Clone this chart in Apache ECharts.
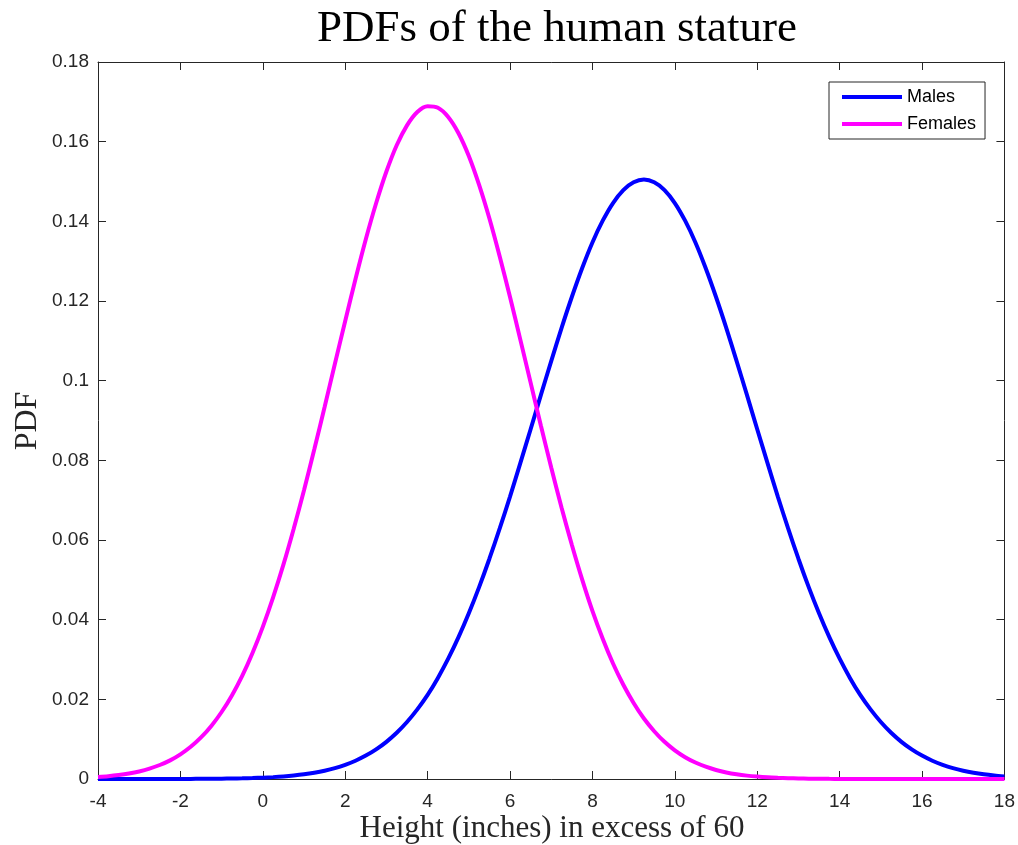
<!DOCTYPE html>
<html>
<head>
<meta charset="utf-8">
<script src="https://cdn.jsdelivr.net/npm/echarts@6/dist/echarts.min.js"></script>
<style>html,body{margin:0;padding:0;background:#fff}#c{width:1018px;height:845px}</style>
</head>
<body>
<div id="c"></div>
<script>
// Data (height in inches above 60, PDF value)
const heights = [-4,-3.75,-3.5,-3.25,-3,-2.75,-2.5,-2.25,-2,-1.75,-1.5,-1.25,-1,-0.75,-0.5,-0.25,
  0,0.25,0.5,0.75,1,1.25,1.5,1.75,2,2.25,2.5,2.75,3,3.25,3.5,3.75,
  4,4.25,4.5,4.75,5,5.25,5.5,5.75,6,6.25,6.5,6.75,7,7.25,7.5,7.75,
  8,8.25,8.5,8.75,9,9.25,9.5,9.75,10,10.25,10.5,10.75,11,11.25,11.5,11.75,
  12,12.25,12.5,12.75,13,13.25,13.5,13.75,14,14.25,14.5,14.75,15,15.25,15.5,15.75,
  16,16.25,16.5,16.75,17,17.25,17.5,17.75,18];
const pdfMale = [0.0000006,0.0000009,0.0000014,0.0000022,0.0000035,0.0000053,0.0000081,0.0000122,0.0000184,0.0000273,0.0000402,0.0000587,0.0000849,0.000122,0.000173,0.000244,
  0.00034,0.000471,0.000645,0.000877,0.00118,0.00158,0.00209,0.00274,0.00357,0.00459,0.00587,0.00743,0.00933,0.0116,0.0143,0.01747,
  0.0211,0.02538,0.0302,0.0356,0.0416,0.04817,0.0553,0.06291,0.0709,0.0793,0.0878,0.09644,0.1049,0.1132,0.121,0.12822,
  0.1347,0.14016,0.1446,0.14785,0.1498,0.1505,0.1498,0.14785,0.1446,0.14016,0.1347,0.12822,0.121,0.1132,0.1049,0.09644,
  0.0878,0.0793,0.0709,0.06291,0.0553,0.04817,0.0416,0.0356,0.0302,0.02538,0.0211,0.01747,0.0143,0.0116,0.00933,0.00743,
  0.00587,0.00459,0.00357,0.00274,0.00209,0.00158,0.00118,0.000877,0.000645];
const pdfFemale = [0.00049,0.000697,0.00099,0.00138,0.0019,0.0026,0.00351,0.00468,0.00619,0.00808,0.01043,0.01332,0.01682,0.02099,0.0259,0.03165,
  0.0382,0.0456,0.0538,0.06283,0.0725,0.08276,0.0934,0.10424,0.115,0.12553,0.1355,0.14453,0.1525,0.1591,0.1641,0.16745,
  0.1689,0.16851,0.1662,0.16212,0.1564,0.14914,0.1407,0.13118,0.121,0.11031,0.0995,0.08869,0.0782,0.06818,0.0588,0.05011,
  0.0422,0.0352,0.029,0.02366,0.0191,0.01519,0.012,0.00933,0.00719,0.00548,0.00413,0.00308,0.00227,0.00165,0.00119,0.000847,
  0.0006,0.000416,0.00029,0.000195,0.00013,0.0000875,0.000058,0.0000375,0.000024,0.0000154,0.00001,0.000006,0.000004,0.0000023,0.0000013,0.0000008,
  0.0000005,0.0000003,0.0000001,0,0,0,0,0,0];
const seriesNames = ['Males','Females'];
const xTicks = {min:-4, max:18, interval:2};
const yTicks = {min:0, max:0.18, interval:0.02};

const pairs = (xs, ys) => xs.map((x,i)=>[x, ys[i]]);
const axisColor = '#262626';
const tickFont = {fontFamily:'Liberation Sans, Arial, sans-serif', fontSize:19, color:axisColor};

const chart = echarts.init(document.getElementById('c'), null, {renderer:'canvas'});
const baseX = {type:'value', min:xTicks.min, max:xTicks.max, interval:xTicks.interval,
  axisLine:{show:true,onZero:false,lineStyle:{color:axisColor,width:1}},
  axisTick:{show:true,inside:true,length:8,lineStyle:{color:axisColor}},
  splitLine:{show:false}};
const baseY = {type:'value', min:yTicks.min, max:yTicks.max, interval:yTicks.interval,
  axisLine:{show:true,onZero:false,lineStyle:{color:axisColor,width:1}},
  axisTick:{show:true,inside:true,length:8,lineStyle:{color:axisColor}},
  splitLine:{show:false}};

chart.setOption({
  animation:false,
  backgroundColor:'#fff',
  title:{text:'PDFs of the human stature', left:552, top:2, textAlign:'center',
    textStyle:{fontFamily:'Liberation Serif, Times New Roman, serif', fontWeight:'normal', fontSize:45, color:'#000'}},
  grid:{left:98, right:12, top:62, bottom:66, containLabel:false},
  xAxis:[
    Object.assign({}, baseX, {position:'bottom', axisLabel:Object.assign({margin:13}, tickFont)}),
    Object.assign({}, baseX, {position:'top', axisLabel:{show:false}})
  ],
  yAxis:[
    Object.assign({}, baseY, {position:'left', axisLabel:Object.assign({margin:9, padding:[2,0,0,0]}, tickFont)}),
    Object.assign({}, baseY, {position:'right', axisLabel:{show:false}})
  ],
  legend:{
    data:seriesNames, orient:'vertical', left:829, top:82,
    padding:[6,9,6,13], itemGap:9, itemWidth:60, itemHeight:4, icon:'rect',
    itemTextGap:6,
    backgroundColor:'#fff', borderColor:axisColor, borderWidth:1, borderRadius:0,
    textStyle:{fontFamily:'Liberation Sans, Arial, sans-serif', fontSize:18, color:'#000'}
  },
  graphic:[
    {type:'text', style:{text:'Height (inches) in excess of 60', x:552, y:829, textAlign:'center', textVerticalAlign:'middle',
      font:'31px "Liberation Serif", "Times New Roman", serif', fill:'#262626'}},
    {type:'text', x:28, y:421, rotation:Math.PI/2, style:{text:'PDF', x:0, y:0, textAlign:'center', textVerticalAlign:'middle',
      font:'32px "Liberation Serif", "Times New Roman", serif', fill:'#262626'}}
  ],
  series:[
    {name:seriesNames[0], type:'line', data:pairs(heights, pdfMale), smooth:0.3,
      showSymbol:false, symbol:'none', lineStyle:{color:'#0000ff', width:4}, itemStyle:{color:'#0000ff'}, clip:false},
    {name:seriesNames[1], type:'line', data:pairs(heights, pdfFemale), smooth:0.3,
      showSymbol:false, symbol:'none', lineStyle:{color:'#ff00ff', width:4}, itemStyle:{color:'#ff00ff'}, clip:false}
  ]
});
</script>
</body>
</html>
